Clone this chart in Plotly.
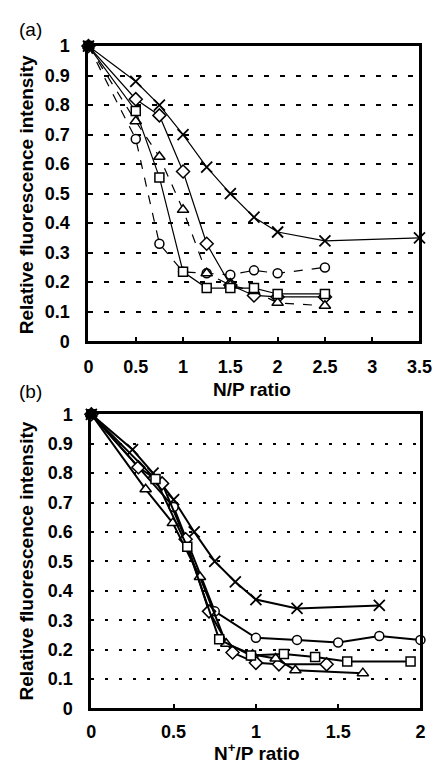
import plotly.graph_objects as go

# ---------------- data: panel (a) N/P ratio ----------------
a_cross_x = [0, 0.5, 0.75, 1.0, 1.25, 1.5, 1.75, 2.0, 2.5, 3.5]
a_cross_y = [1, 0.88, 0.80, 0.70, 0.59, 0.50, 0.42, 0.37, 0.34, 0.35]
a_circle_x = [0, 0.5, 0.75, 1.0, 1.25, 1.5, 1.75, 2.0, 2.5]
a_circle_y = [1, 0.685, 0.33, 0.235, 0.23, 0.225, 0.24, 0.23, 0.25]
a_diamond_x = [0, 0.5, 0.75, 1.0, 1.25, 1.5, 1.75, 2.0, 2.5]
a_diamond_y = [1, 0.82, 0.765, 0.575, 0.33, 0.19, 0.155, 0.15, 0.15]
a_square_x = [0, 0.5, 0.75, 1.0, 1.25, 1.5, 1.75, 2.0, 2.5]
a_square_y = [1, 0.78, 0.555, 0.235, 0.18, 0.18, 0.18, 0.16, 0.16]
a_triangle_x = [0, 0.5, 0.75, 1.0, 1.25, 1.5, 1.75, 2.0, 2.5]
a_triangle_y = [1, 0.745, 0.625, 0.445, 0.23, 0.19, 0.17, 0.13, 0.12]

# ---------------- data: panel (b) N+/P ratio ----------------
b_cross_x = [0, 0.25, 0.375, 0.5, 0.625, 0.75, 0.875, 1.0, 1.25, 1.75]
b_cross_y = [1, 0.88, 0.80, 0.71, 0.60, 0.50, 0.43, 0.37, 0.34, 0.35]
b_circle_x = [0, 0.5, 0.75, 1.0, 1.25, 1.5, 1.75, 2.0]
b_circle_y = [1, 0.685, 0.33, 0.24, 0.233, 0.224, 0.246, 0.233]
b_diamond_x = [0, 0.286, 0.43, 0.573, 0.715, 0.858, 1.0, 1.14, 1.43]
b_diamond_y = [1, 0.82, 0.765, 0.575, 0.33, 0.19, 0.155, 0.15, 0.15]
b_square_x = [0, 0.39, 0.583, 0.777, 0.97, 1.17, 1.36, 1.555, 1.94]
b_square_y = [1, 0.78, 0.55, 0.235, 0.18, 0.185, 0.175, 0.16, 0.16]
b_triangle_x = [0, 0.33, 0.495, 0.66, 0.82, 0.98, 1.12, 1.24, 1.65]
b_triangle_y = [1, 0.745, 0.63, 0.447, 0.22, 0.183, 0.17, 0.13, 0.12]

y_ticks = [0, 0.1, 0.2, 0.3, 0.4, 0.5, 0.6, 0.7, 0.8, 0.9, 1]
y_ticktext = ["0", "0.1", "0.2", "0.3", "0.4", "0.5", "0.6", "0.7", "0.8", "0.9", "1"]
a_xticks = [0, 0.5, 1, 1.5, 2, 2.5, 3, 3.5]
a_xticktext = ["0", "0.5", "1", "1.5", "2", "2.5", "3", "3.5"]
b_xticks = [0, 0.5, 1, 1.5, 2]
b_xticktext = ["0", "0.5", "1", "1.5", "2"]

W, H = 444, 773
FONT = "Liberation Sans"

fig = go.Figure()

def add_series(x, y, symbol, xa, ya, lw, dash, size=9, first_black=False, open_mark=False):
    if open_mark:
        marker = dict(symbol=symbol, size=size, color="black",
                      line=dict(color="black", width=1.8))
    else:
        colors = ["white"] * len(x)
        if first_black:
            colors[0] = "black"
        marker = dict(symbol=symbol, size=size, color=colors,
                      line=dict(color="black", width=1.5))
    fig.add_trace(go.Scatter(
        x=x, y=y, xaxis=xa, yaxis=ya, mode="lines+markers",
        line=dict(color="black", width=lw, dash=dash),
        marker=marker, showlegend=False, cliponaxis=False,
    ))

# panel (a)
add_series(a_cross_x, a_cross_y, "x-thin-open", "x", "y", 1.2, "solid", size=11, open_mark=True)
add_series(a_circle_x, a_circle_y, "circle", "x", "y", 1.2, "dash")
add_series(a_diamond_x, a_diamond_y, "diamond", "x", "y", 1.2, "solid", size=10)
add_series(a_triangle_x, a_triangle_y, "triangle-up", "x", "y", 1.2, "dash", size=10)
add_series(a_square_x, a_square_y, "square", "x", "y", 1.2, "solid", first_black=True)

# panel (b)
add_series(b_cross_x, b_cross_y, "x-thin-open", "x2", "y2", 2, "solid", size=11, open_mark=True)
add_series(b_circle_x, b_circle_y, "circle", "x2", "y2", 2, "solid")
add_series(b_diamond_x, b_diamond_y, "diamond", "x2", "y2", 2, "solid", size=10)
add_series(b_triangle_x, b_triangle_y, "triangle-up", "x2", "y2", 2, "solid", size=10)
add_series(b_square_x, b_square_y, "square", "x2", "y2", 2, "solid", first_black=True)

tickfont = dict(family=FONT, size=18, color="black", weight="bold")

def xaxis(dom, rng, tv, tt, standoff):
    return dict(domain=dom, range=rng, tickvals=tv, ticktext=tt, tickfont=tickfont,
                showline=True, linecolor="black", linewidth=3, mirror=True,
                ticks="inside", ticklen=4, tickwidth=2, tickcolor="black",
                showgrid=False, zeroline=False, ticklabelstandoff=standoff,
                fixedrange=True)

def yaxis(dom, anchor, dash):
    return dict(domain=dom, range=[0, 1], tickvals=y_ticks, ticktext=y_ticktext,
                tickfont=tickfont, anchor=anchor,
                showline=True, linecolor="black", linewidth=3, mirror=True,
                ticks="", showgrid=True, gridcolor="black", gridwidth=1.6,
                griddash=dash, zeroline=False, ticklabelstandoff=12, fixedrange=True)

a_xdom = [87 / W, 432 / W]
a_ydom = [1 - 340 / H, 1 - 37 / H]
b_xdom = [90 / W, 433 / W]
b_ydom = [1 - 717 / H, 1 - 415 / H]

titlefont = dict(family=FONT, size=19, color="black", weight="bold")
labelfont = dict(family=FONT, size=19, color="black")

fig.update_layout(
    width=W, height=H, margin=dict(l=0, r=0, t=0, b=0),
    paper_bgcolor="white", plot_bgcolor="white",
    xaxis=dict(**xaxis(a_xdom, [0, 3.5], a_xticks, a_xticktext, 7), anchor="y"),
    yaxis=yaxis(a_ydom, "x", "5px,11px"),
    xaxis2=dict(**xaxis(b_xdom, [0, 2], b_xticks, b_xticktext, 5), anchor="y2"),
    yaxis2=yaxis(b_ydom, "x2", "3px,11px"),
    annotations=[
        dict(text="(a)", x=27 / W, y=1 - 20 / H, xref="paper", yref="paper",
             showarrow=False, font=labelfont, xanchor="center", yanchor="middle"),
        dict(text="(b)", x=27 / W, y=1 - 392 / H, xref="paper", yref="paper",
             showarrow=False, font=labelfont, xanchor="center", yanchor="middle"),
        dict(text="N/P ratio", x=257 / W, y=1 - 390 / H, xref="paper", yref="paper",
             showarrow=False, font=titlefont, xanchor="center", yanchor="middle"),
        dict(text="N<sup>+</sup>/P ratio", x=263 / W, y=1 - 762 / H, xref="paper",
             yref="paper", showarrow=False, font=titlefont,
             xanchor="center", yanchor="middle"),
        dict(text="Relative fluorescence intensity", x=22 / W, y=1 - 190 / H,
             xref="paper", yref="paper", showarrow=False, font=titlefont,
             textangle=-90, xanchor="center", yanchor="middle"),
        dict(text="Relative fluorescence intensity", x=22 / W, y=1 - 566 / H,
             xref="paper", yref="paper", showarrow=False, font=titlefont,
             textangle=-90, xanchor="center", yanchor="middle"),
    ],
)

fig.write_html("out.html")
